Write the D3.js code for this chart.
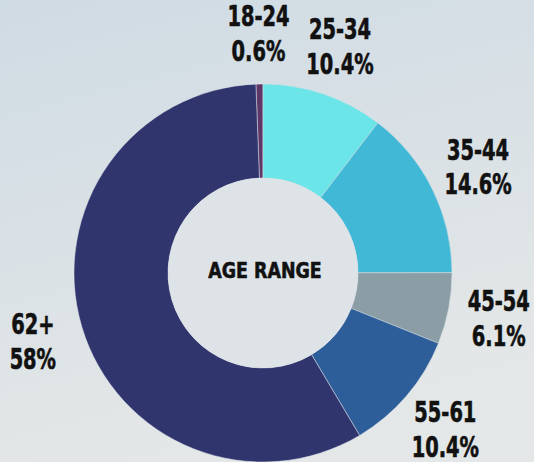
<!DOCTYPE html>
<html>
<head>
<meta charset="utf-8">
<script src="https://cdn.jsdelivr.net/npm/d3@7/dist/d3.min.js"></script>
<style>
  html, body { margin: 0; padding: 0; }
  body { width: 534px; height: 462px; overflow: hidden; }
  text { font-family: "DejaVu Sans Condensed", "DejaVu Sans", sans-serif; font-weight: bold; fill: #111; stroke: #111; stroke-width: 0.6; }
</style>
</head>
<body>
<svg id="chart" width="534" height="462"></svg>
<script>
// age groups, share of total (%)
const ages = ['18-24', '25-34', '35-44', '45-54', '55-61', '62+'];
const shares = [0.6, 10.4, 14.6, 6.1, 10.4, 58];
const shareLabels = ['0.6%', '10.4%', '14.6%', '6.1%', '10.4%', '58%'];
const colors = ['#5e3668', '#6ce5e8', '#41b8d5', '#8b9ea6', '#2e5e99', '#31356e'];

const w = 534, h = 462;
const cx = 263, cy = 273;
const outerR = 189, innerR = 95, labelR = 240;

const svg = d3.select('#chart');

// soft background
const defs = svg.append('defs');
const grad = defs.append('linearGradient')
  .attr('id', 'bg').attr('x1', 0).attr('y1', 0).attr('x2', 0.3).attr('y2', 1);
grad.append('stop').attr('offset', '0%').attr('stop-color', '#cfdbe4');
grad.append('stop').attr('offset', '100%').attr('stop-color', '#e4e7e7');
svg.append('rect').attr('width', w).attr('height', h).attr('fill', 'url(#bg)');

const total = d3.sum(shares);
const start = -2 * Math.PI * shares[0] / total;   // first slice sits just left of 12 o'clock

const pie = d3.pie()
  .sort(null)
  .startAngle(start)
  .endAngle(start + 2 * Math.PI);

const arcs = pie(shares);
const arc = d3.arc().innerRadius(innerR).outerRadius(outerR);
const labelArc = d3.arc().innerRadius(labelR).outerRadius(labelR);

const g = svg.append('g').attr('transform', `translate(${cx},${cy})`);

g.selectAll('path.slice')
  .data(arcs)
  .join('path')
  .attr('class', 'slice')
  .attr('d', arc)
  .attr('fill', (d, i) => colors[i])
  .attr('stroke', '#d8e0e6')
  .attr('stroke-width', 0.5);

g.append('circle').attr('r', innerR).attr('fill', '#dde3e7');

// labels are squeezed sideways to get the narrow poster look
const labels = g.selectAll('g.label')
  .data(arcs)
  .join('g')
  .attr('class', 'label')
  .attr('transform', d => `translate(${labelArc.centroid(d)}) scale(0.77,1)`);

labels.append('text')
  .attr('text-anchor', 'middle')
  .attr('y', -7)
  .attr('font-size', 28)
  .text((d, i) => ages[i]);

labels.append('text')
  .attr('text-anchor', 'middle')
  .attr('y', 28)
  .attr('font-size', 28)
  .text((d, i) => shareLabels[i]);

g.append('text')
  .attr('text-anchor', 'middle')
  .attr('transform', 'translate(2,5) scale(0.88,1)')
  .attr('font-size', 22)
  .text('AGE RANGE');
</script>
</body>
</html>
